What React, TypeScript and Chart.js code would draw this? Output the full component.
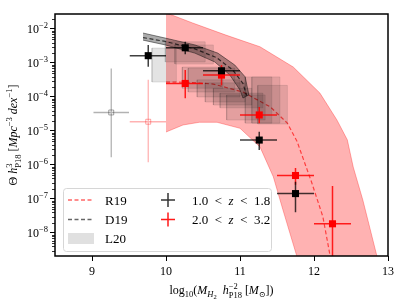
import React, { useEffect, useRef } from 'react';
import { Chart, registerables } from 'chart.js';
Chart.register(...registerables);

const FAM = '"Liberation Serif", "DejaVu Serif", serif';

// ---- axis ticks ----
const xTicks = [9, 10, 11, 12, 13];
const yTickExps = [-8, -7, -6, -5, -4, -3, -2];

// ---- 1.0 < z < 1.8 (black) ----
const blackX = [9.76, 10.26, 10.75, 11.26, 11.75];
const blackXLo = [9.51, 10.0, 10.5, 11.0, 11.5];
const blackXHi = [10.0, 10.5, 11.0, 11.5, 12.0];
const blackY = [1.64e-3, 2.8e-3, 5.9e-4, 5.4e-6, 1.44e-7];
const blackYLo = [7.8e-4, 1.8e-3, 5.2e-4, 2.75e-6, 4.1e-8];
const blackYHi = [3.4e-3, 4.2e-3, 6.7e-4, 9.5e-6, 3.2e-7];

// ---- 2.0 < z < 3.2 (red) ----
const redX = [10.26, 10.75, 11.26, 11.75, 12.25];
const redXLo = [10.0, 10.5, 11.0, 11.5, 12.0];
const redXHi = [10.5, 11.0, 11.5, 12.0, 12.5];
const redY = [2.5e-4, 4.4e-4, 2.96e-5, 4.9e-7, 1.86e-8];
const redYLo = [9.1e-5, 2.2e-4, 1.7e-5, 2.6e-7, 1e-10];
const redYHi = [6.2e-4, 8.7e-4, 5.1e-5, 8.1e-7, 2.4e-7];

// ---- faded low-mass points ----
const grayOldX = [9.26];
const grayOldXLo = [9.02];
const grayOldXHi = [9.5];
const grayOldY = [3.5e-5];
const grayOldYLo = [1.7e-6];
const grayOldYHi = [6.9e-4];

const redOldX = [9.76];
const redOldXLo = [9.51];
const redOldXHi = [10.0];
const redOldY = [1.87e-5];
const redOldYLo = [1.2e-6];
const redOldYHi = [3.2e-4];

// ---- R19 band and curve ----
const r19UpperX = [10.0, 10.36, 10.81, 11.27, 11.72, 12.08, 12.31, 12.45, 12.53, 12.66, 12.85, 12.95];
const r19UpperY = [3.0e-2, 1.5e-2, 6.6e-3, 3.0e-3, 7.6e-4, 1.3e-4, 2.1e-5, 5.5e-6, 8.7e-7, 9.3e-8, 2.1e-9, 1e-10];
const r19LowerX = [10.0, 10.23, 10.45, 10.69, 11.0, 11.27, 11.45, 11.58, 11.77, 11.85];
const r19LowerY = [9.3e-6, 1.5e-5, 1.8e-5, 1.8e-5, 1.2e-5, 3.4e-6, 4.5e-7, 4.8e-8, 2.0e-9, 1e-10];
const r19LineX = [10.0, 10.3, 10.64, 11.04, 11.41, 11.64, 11.77, 11.97, 12.12, 12.22, 12.27];
const r19LineY = [2.75e-4, 2.7e-4, 2.4e-4, 1.4e-4, 5.1e-5, 1.7e-5, 5.0e-6, 3.0e-7, 3.0e-8, 2.0e-9, 3.2e-10];

// ---- D19 band and curve ----
const d19UpperX = [9.69, 9.99, 10.39, 10.70, 10.93, 11.07, 11.12];
const d19UpperY = [7.6e-3, 5.4e-3, 3.4e-3, 1.95e-3, 8.7e-4, 3.9e-4, 1.15e-4];
const d19LowerX = [9.69, 9.99, 10.39, 10.66, 10.86, 11.0, 11.04];
const d19LowerY = [4.7e-3, 3.4e-3, 1.95e-3, 1.07e-3, 4.5e-4, 1.6e-4, 9.3e-5];
const d19LineX = [9.69, 9.99, 10.39, 10.68, 10.9, 11.04, 11.09];
const d19LineY = [5.6e-3, 4.3e-3, 2.6e-3, 1.45e-3, 6.3e-4, 2.5e-4, 1.1e-4];

// ---- L20 boxes ----
const l20XLo = [9.81, 9.99, 10.12, 10.22, 10.30, 10.42, 10.53, 10.64, 10.73, 10.82, 11.07, 11.16, 11.24];
const l20XHi = [10.14, 10.53, 10.64, 10.77, 10.93, 11.0, 11.07, 11.16, 11.31, 11.34, 11.43, 11.54, 11.64];
const l20YLo = [2.75e-4, 1.07e-3, 9.3e-4, 1.8e-4, 1.4e-4, 1.0e-4, 7.1e-5, 5.8e-5, 4.8e-5, 2.1e-5, 1.7e-5, 1.7e-5, 1.6e-5];
const l20YHi = [2.75e-3, 4.2e-3, 3.4e-3, 7.6e-4, 7.1e-4, 3.2e-4, 2.6e-4, 1.8e-4, 1.3e-4, 1.15e-4, 3.9e-4, 3.9e-4, 2.2e-4];

type Seg = { t: string; s: number; dy?: number; it?: boolean; back?: boolean };

function fontOf(g: Seg) {
  return `${g.it ? 'italic ' : ''}${g.s}px ${FAM}`;
}

function drawSegs(ctx: CanvasRenderingContext2D, segs: Seg[], x0: number, y: number, align: string) {
  let x = 0;
  let prevStart = 0;
  const pos: number[] = [];
  for (const g of segs) {
    ctx.font = fontOf(g);
    const w = ctx.measureText(g.t).width;
    const sx = g.back ? prevStart : x;
    pos.push(sx);
    prevStart = sx;
    x = g.back ? Math.max(x, sx + w) : sx + w;
  }
  const total = x;
  const start = align === 'center' ? x0 - total / 2 : align === 'right' ? x0 - total : x0;
  ctx.textBaseline = 'alphabetic';
  ctx.textAlign = 'left';
  segs.forEach((g, i) => {
    ctx.font = fontOf(g);
    ctx.fillText(g.t, start + pos[i], y + (g.dy || 0));
  });
}

function errorBarData(x: number[], xlo: number[], xhi: number[], y: number[], ylo: number[], yhi: number[]) {
  const out: any[] = [];
  x.forEach((xi, i) => {
    out.push({ x: xlo[i], y: y[i] }, { x: xhi[i], y: y[i] }, { x: xi, y: null });
    out.push({ x: xi, y: ylo[i] }, { x: xi, y: yhi[i] }, { x: xi, y: null });
  });
  return out;
}

function pts(x: number[], y: number[]) {
  return x.map((xi, i) => ({ x: xi, y: y[i] }));
}

const overlay = {
  id: 'overlay',
  afterDatasetsDraw(chart: any) {
    const { ctx, chartArea: a, scales } = chart;
    const ys = scales.y;
    ctx.save();
    // minor y ticks
    ctx.strokeStyle = '#000';
    ctx.lineWidth = 0.8;
    for (let e = -9; e <= -1; e++) {
      for (let k = 2; k <= 9; k++) {
        const v = k * Math.pow(10, e);
        if (v < ys.min || v > ys.max) continue;
        const py = Math.round(ys.getPixelForValue(v)) + 0.5;
        ctx.beginPath();
        ctx.moveTo(a.left - 3, py);
        ctx.lineTo(a.left, py);
        ctx.stroke();
      }
    }
    // spines
    ctx.lineWidth = 1.5;
    ctx.strokeRect(a.left, a.top, a.right - a.left, a.bottom - a.top);

    ctx.fillStyle = '#000';
    // y tick labels
    for (const e of yTickExps) {
      const py = ys.getPixelForValue(Math.pow(10, e));
      drawSegs(ctx, [{ t: '10', s: 12 }, { t: '\u2212' + Math.abs(e), s: 8.5, dy: -5 }], a.left - 7, py + 4, 'right');
    }
    // x title
    drawSegs(
      ctx,
      [
        { t: 'log', s: 12 },
        { t: '10', s: 8.5, dy: 3 },
        { t: '(', s: 12 },
        { t: 'M', s: 12, it: true },
        { t: 'H', s: 8.5, dy: 3, it: true },
        { t: '2', s: 6.5, dy: 5 },
        { t: '  ', s: 12 },
        { t: 'h', s: 12, it: true },
        { t: '\u22122', s: 8.5, dy: -5 },
        { t: 'P18', s: 8.5, dy: 3.5, it: false, back: true },
        { t: ' [', s: 12 },
        { t: 'M', s: 12, it: true },
        { t: '\u2299', s: 8, dy: 3 },
        { t: '])', s: 12 },
      ],
      (a.left + a.right) / 2,
      294,
      'center'
    );
    // y title
    ctx.save();
    ctx.translate(17, (a.top + a.bottom) / 2);
    ctx.rotate(-Math.PI / 2);
    drawSegs(
      ctx,
      [
        { t: '\u0398 ', s: 12 },
        { t: 'h', s: 12, it: true },
        { t: '3', s: 8.5, dy: -5 },
        { t: 'P18', s: 8.5, dy: 3.5, back: true },
        { t: ' [', s: 12 },
        { t: 'Mpc', s: 12, it: true },
        { t: '\u22123', s: 8.5, dy: -5 },
        { t: ' ', s: 12 },
        { t: 'dex', s: 12, it: true },
        { t: '\u22121', s: 8.5, dy: -5 },
        { t: ']', s: 12 },
      ],
      0,
      0,
      'center'
    );
    ctx.restore();

    // legend
    const lx = 63, ly = 188, lw = 208, lh = 63;
    ctx.beginPath();
    ctx.roundRect(lx + 0.5, ly + 0.5, lw, lh, 3);
    ctx.fillStyle = 'rgba(255,255,255,0.8)';
    ctx.fill();
    ctx.strokeStyle = '#d6d6d6';
    ctx.lineWidth = 1;
    ctx.stroke();

    const rows = [200, 219.5, 238.5];
    ctx.lineWidth = 1.3;
    ctx.setLineDash([4, 2.5]);
    ctx.strokeStyle = 'rgba(255,0,0,0.6)';
    ctx.beginPath();
    ctx.moveTo(68, rows[0]);
    ctx.lineTo(94, rows[0]);
    ctx.stroke();
    ctx.strokeStyle = 'rgba(0,0,0,0.6)';
    ctx.beginPath();
    ctx.moveTo(68, rows[1]);
    ctx.lineTo(94, rows[1]);
    ctx.stroke();
    ctx.setLineDash([]);
    ctx.fillStyle = 'rgba(0,0,0,0.12)';
    ctx.fillRect(68, rows[2] - 5.5, 26, 11);

    ctx.fillStyle = '#000';
    drawSegs(ctx, [{ t: 'R19', s: 13 }], 105, rows[0] + 4.5, 'left');
    drawSegs(ctx, [{ t: 'D19', s: 13 }], 105, rows[1] + 4.5, 'left');
    drawSegs(ctx, [{ t: 'L20', s: 13 }], 105, rows[2] + 4.5, 'left');

    const crosses = [
      { c: 'rgba(0,0,0,0.8)', y: rows[0], lo: '1.0', hi: '1.8' },
      { c: 'rgba(255,0,0,0.9)', y: rows[1], lo: '2.0', hi: '3.2' },
    ];
    for (const cr of crosses) {
      ctx.strokeStyle = cr.c;
      ctx.lineWidth = 1.5;
      ctx.beginPath();
      ctx.moveTo(161, cr.y);
      ctx.lineTo(175, cr.y);
      ctx.moveTo(168, cr.y - 7);
      ctx.lineTo(168, cr.y + 7);
      ctx.stroke();
      ctx.fillStyle = '#000';
      drawSegs(
        ctx,
        [
          { t: cr.lo, s: 13 },
          { t: '\u2002<\u2002', s: 13 },
          { t: 'z', s: 13, it: true },
          { t: '\u2002<\u2002', s: 13 },
          { t: cr.hi, s: 13 },
        ],
        192,
        cr.y + 4.5,
        'left'
      );
    }
    ctx.restore();
  },
};

export default function App() {
  const ref = useRef<HTMLCanvasElement | null>(null);
  useEffect(() => {
    if (!ref.current) return;

    const r19Band = [...pts(r19LowerX, r19LowerY), ...pts(r19UpperX, r19UpperY).reverse()];
    const d19Band = [...pts(d19UpperX, d19UpperY), ...pts(d19LowerX, d19LowerY).reverse()];

    const boxSets = l20XLo.map((x0, i) => ({
      data: [
        { x: x0, y: l20YLo[i] },
        { x: l20XHi[i], y: l20YLo[i] },
        { x: l20XHi[i], y: l20YHi[i] },
        { x: x0, y: l20YHi[i] },
        { x: x0, y: l20YLo[i] },
      ],
      showLine: true,
      fill: 'shape',
      backgroundColor: 'rgba(0,0,0,0.11)',
      borderColor: 'rgba(0,0,0,0.1)',
      borderWidth: 1,
      pointRadius: 0,
      order: 4,
    }));

    const chart = new Chart(ref.current, {
      type: 'scatter',
      data: {
        datasets: [
          {
            data: pts(blackX, blackY),
            pointStyle: 'rect',
            pointRadius: 5,
            backgroundColor: '#000',
            borderWidth: 0,
            order: 1,
          },
          {
            data: pts(redX, redY),
            pointStyle: 'rect',
            pointRadius: 5,
            backgroundColor: '#ff0000',
            borderWidth: 0,
            order: 1,
          },
          {
            data: errorBarData(blackX, blackXLo, blackXHi, blackY, blackYLo, blackYHi),
            showLine: true,
            spanGaps: false,
            borderColor: 'rgba(0,0,0,0.75)',
            borderWidth: 1.5,
            pointRadius: 0,
            order: 2,
          },
          {
            data: errorBarData(redX, redXLo, redXHi, redY, redYLo, redYHi),
            showLine: true,
            spanGaps: false,
            borderColor: 'rgba(255,0,0,0.85)',
            borderWidth: 1.5,
            pointRadius: 0,
            order: 2,
          },
          {
            data: pts(grayOldX, grayOldY),
            pointStyle: 'rect',
            pointRadius: 3.5,
            backgroundColor: 'rgba(0,0,0,0)',
            borderColor: 'rgba(0,0,0,0.35)',
            borderWidth: 1,
            order: 3,
          },
          {
            data: pts(redOldX, redOldY),
            pointStyle: 'rect',
            pointRadius: 3.5,
            backgroundColor: 'rgba(0,0,0,0)',
            borderColor: 'rgba(255,0,0,0.35)',
            borderWidth: 1,
            order: 3,
          },
          {
            data: errorBarData(grayOldX, grayOldXLo, grayOldXHi, grayOldY, grayOldYLo, grayOldYHi),
            showLine: true,
            spanGaps: false,
            borderColor: 'rgba(0,0,0,0.3)',
            borderWidth: 1.3,
            pointRadius: 0,
            order: 3,
          },
          {
            data: errorBarData(redOldX, redOldXLo, redOldXHi, redOldY, redOldYLo, redOldYHi),
            showLine: true,
            spanGaps: false,
            borderColor: 'rgba(255,0,0,0.3)',
            borderWidth: 1.3,
            pointRadius: 0,
            order: 3,
          },
          ...boxSets,
          {
            data: pts(d19LineX, d19LineY),
            showLine: true,
            borderColor: 'rgba(0,0,0,0.7)',
            borderDash: [4, 2.5],
            borderWidth: 1.2,
            pointRadius: 0,
            order: 5,
          },
          {
            data: d19Band,
            showLine: true,
            fill: 'shape',
            backgroundColor: 'rgba(0,0,0,0.33)',
            borderColor: 'rgba(0,0,0,0.45)',
            borderWidth: 1,
            pointRadius: 0,
            order: 6,
          },
          {
            data: pts(r19LineX, r19LineY),
            showLine: true,
            borderColor: 'rgba(255,0,0,0.65)',
            borderDash: [4, 2.5],
            borderWidth: 1.2,
            pointRadius: 0,
            order: 7,
          },
          {
            data: r19Band,
            showLine: true,
            fill: 'shape',
            backgroundColor: 'rgba(255,0,0,0.3)',
            borderColor: 'rgba(255,0,0,0.3)',
            borderWidth: 1,
            pointRadius: 0,
            order: 8,
          },
        ] as any,
      },
      options: {
        animation: false,
        responsive: false,
        devicePixelRatio: 1,
        events: [],
        layout: { padding: { left: 0, top: 14, right: 19, bottom: 0 } },
        plugins: { legend: { display: false }, tooltip: { enabled: false } },
        scales: {
          x: {
            type: 'linear',
            min: 8.5,
            max: 13,
            bounds: 'data',
            afterBuildTicks: (s: any) => {
              s.ticks = xTicks.map((v) => ({ value: v }));
            },
            afterFit: (s: any) => {
              s.height = 49;
            },
            border: { display: false },
            grid: { drawOnChartArea: false, drawTicks: true, tickLength: 5, tickColor: '#000', tickWidth: 1 },
            ticks: { color: '#000', padding: 4, font: { family: FAM, size: 12 }, maxRotation: 0 },
          },
          y: {
            type: 'logarithmic',
            min: 2.1e-9,
            max: 2.76e-2,
            bounds: 'data',
            afterBuildTicks: (s: any) => {
              s.ticks = yTickExps.map((e) => ({ value: Math.pow(10, e), major: true }));
            },
            afterFit: (s: any) => {
              s.width = 55;
            },
            border: { display: false },
            grid: { drawOnChartArea: false, drawTicks: true, tickLength: 5, tickColor: '#000', tickWidth: 1 },
            ticks: { callback: () => '', font: { family: FAM, size: 12 } },
          },
        },
      } as any,
      plugins: [overlay],
    });
    return () => chart.destroy();
  }, []);

  return (
    <div style={{ position: 'fixed', left: 0, top: 0, width: 407, height: 305, background: '#fff' }}>
      <canvas ref={ref} width={407} height={305} style={{ display: 'block' }} />
    </div>
  );
}
